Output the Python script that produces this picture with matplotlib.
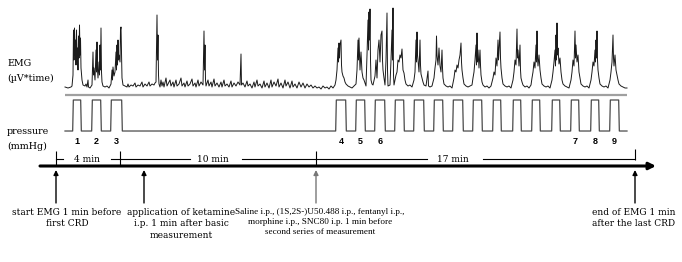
import matplotlib
matplotlib.use("Agg")
import matplotlib.pyplot as plt

# time axis: seconds from the start of EMG recording
emg_t = [27, 36, 45, 48, 51, 52.5, 54, 55.5, 57, 58.5, 60, 61.5, 63, 64.5, 66, 67.5, 69, 70.5, 72, 73.5,
         75, 78, 81, 87, 90, 93, 96, 97.5, 102, 108, 111, 112.5, 114, 117, 120, 121.5, 123, 124.5, 126, 129,
         130.5, 132, 133.5, 135, 136.5, 138, 141, 147, 153, 159, 165, 168, 169.5, 171, 174, 177, 180, 181.5,
         183, 184.5, 186, 187.5, 189, 192, 193.5, 195, 196.5, 198, 201, 207, 213,
         216, 219, 225, 231, 237, 240, 246, 252, 258, 261, 267, 273, 279, 282, 288, 294, 297, 300, 303, 304.5,
         306, 307.5, 309, 312, 315, 318, 321, 324, 330, 333, 336, 342, 345, 351, 354, 360, 363, 369, 375, 378,
         384, 387, 393, 396, 402, 408, 411, 417, 420, 426, 429, 435, 441, 444, 445.5, 447, 448.5, 450, 456,
         459, 465, 468, 474, 477, 483, 489, 495, 498, 504, 507, 513, 519, 525, 528, 534, 540, 546, 552, 555,
         556.5, 561, 567, 573, 576, 582, 588, 594, 597, 603, 606, 612, 618, 624, 627, 633, 639, 645, 648, 654,
         660, 666, 669, 675, 681, 687, 690, 696, 702, 708, 711, 717, 723, 729, 735, 741, 747, 753, 759, 765,
         771, 777, 783, 789, 795, 801, 807, 813, 819, 825, 831, 837,
         840, 843, 846, 847.5, 849, 850.5, 852, 855, 856.5, 858, 861, 864, 867, 870, 876, 882, 888, 894, 900,
         903, 906, 907.5, 909, 910.5, 912, 915, 918, 921, 924, 927, 930, 933, 936, 937.5, 939, 940.5, 942,
         943.5, 945, 948, 951, 957, 960, 963, 966, 969, 972, 975, 978, 979.5, 981, 984, 987, 990, 993, 994.5,
         996, 1002, 1005, 1008, 1009.5, 1011, 1012.5, 1014, 1017, 1020, 1023, 1026, 1029, 1032, 1035, 1038,
         1041, 1044, 1047, 1050, 1056, 1062, 1068, 1074, 1077, 1080, 1081.5, 1083, 1084.5, 1086, 1089, 1092,
         1093.5, 1095, 1098, 1101, 1104, 1110, 1116, 1117.5, 1122, 1128, 1134, 1137, 1140, 1141.5, 1143, 1146,
         1149, 1152, 1155, 1158, 1159.5, 1161, 1164, 1170, 1176, 1182, 1188, 1194, 1197, 1200, 1203, 1206,
         1209, 1212, 1215, 1216.5, 1218, 1221, 1224, 1230, 1236, 1242, 1248, 1251, 1254, 1257, 1260, 1261.5,
         1263, 1264.5, 1266, 1269, 1272, 1273.5, 1275, 1278, 1281, 1287, 1293, 1299, 1305, 1311, 1314, 1317,
         1320, 1323, 1326, 1327.5, 1329, 1332, 1333.5, 1335, 1338, 1341, 1347, 1353, 1359, 1365, 1371, 1374,
         1377, 1380, 1383, 1384.5, 1386, 1389, 1392, 1393.5, 1395, 1398, 1401, 1407, 1413, 1419, 1425, 1428,
         1431, 1434, 1437, 1440, 1441.5, 1443, 1444.5, 1446, 1449, 1452, 1455, 1458, 1464, 1470, 1476, 1482,
         1488, 1491, 1494, 1497, 1498.5, 1500, 1501.5, 1503, 1504.5, 1506, 1509, 1512, 1515, 1518, 1521, 1527,
         1533, 1539, 1545, 1548, 1551, 1554, 1557, 1558.5, 1560, 1563, 1566, 1569, 1572, 1575, 1581, 1587,
         1593, 1599, 1605, 1608, 1611, 1614, 1617, 1618.5, 1620, 1621.5, 1623, 1624.5, 1626, 1629, 1632, 1638,
         1644, 1650, 1656, 1662, 1665, 1668, 1671, 1672.5, 1674, 1677, 1680, 1683, 1686, 1689, 1695, 1701,
         1707, 1713]
emg_v = [0, -1, 0, 1, 12, 57, 27, 59, 32, 47, 22, 57, 25, 39, 17, 51, 29, 62, 32, 49,
         19, 7, 2, 1, 3, 0, 7, 0, -1, 2, 35, 12, 19, 7, 37, 15, 45, 17, 9, 25,
         12, 42, 17, 59, 15, 5, 1, 0, 1, -1, 3, 17, 7, 20, 11, 15, 35, 17,
         42, 22, 47, 27, 32, 25, 57, 60, 32, 9, 2, 1, 0,
         3, 0, 2, 1, 4, 0, 2, 1, 5, 0, 3, 1, 5, 1, 3, 2, 4, 5, 72, 27,
         52, 12, 3, 0, 7, 1, 5, 0, 9, 1, 3, 7, 1, 5, 0, 7, 1, 3, 9, 1,
         4, 0, 6, 1, 3, 8, 1, 4, 0, 7, 1, 5, 2, 56, 17, 42, 7, 1, 7,
         1, 5, 0, 8, 1, 4, 0, 5, 0, 7, 1, 3, 0, 6, 0, 4, 1, 5, 2, 33,
         2, 4, 0, 6, 1, 3, -1, 5, 0, 7, 1, 3, -1, 6, 0, 4, -1, 7, 0, 5,
         1, 8, 0, 4, -1, 7, 1, 5, -1, 6, 0, 3, -1, 5, 0, 4, -1, 3, 0, 2,
         -1, 1, -1, 0, -2, 1, -1, 0, -2, 1, -1, 2,
         7, 17, 39, 25, 44, 29, 42, 47, 22, 15, 11, 9, 5, 3, 1, 0, -1, 1, 3,
         17, 47, 27, 49, 32, 17, 35, 15, 9, 7, 4, 1, 32, 67, 37, 75, 47, 78,
         27, 7, 3, 2, 11, 27, 9, 37, 47, 25, 52, 56, 27, 17, 9, 2, 27, 74, 17,
         1, 2, 27, 57, 27, 79, 12, 2, 7, 12, 15, 27, 25, 32, 29, 38,
         17, 14, 7, 3, 1, 2, 0, 7, 15, 47, 25, 55, 32, 27, 15, 47,
         22, 13, 9, 5, 2, 1, 16, 1, 0, 1, 9, 19, 27, 51, 32, 22,
         39, 21, 15, 37, 19, 9, 3, 1, 0, 1, -1, 9, 17, 15, 22, 19,
         27, 32, 44, 25, 17, 9, 3, 1, 0, 1, 2, 9, 15, 27, 42, 22,
         54, 25, 37, 19, 37, 22, 12, 5, 2, 0, 1, -1, 1, 9, 15, 12,
         29, 21, 47, 27, 37, 55, 29, 19, 9, 3, 1, 0, 1, -1, 7, 15,
         27, 22, 58, 29, 37, 21, 42, 17, 9, 5, 2, 0, 1, -1, 2, 9,
         15, 25, 19, 42, 25, 56, 29, 21, 32, 17, 9, 3, 1, 0, 1, -1,
         7, 15, 25, 37, 21, 52, 27, 64, 32, 39, 23, 29, 15, 7, 3, 1,
         0, -1, 7, 15, 27, 21, 56, 29, 42, 25, 32, 15, 9, 3, 1, 0,
         1, -1, 7, 15, 25, 21, 37, 25, 47, 29, 56, 27, 17, 9, 3, 1,
         0, 1, -1, 7, 15, 25, 52, 29, 21, 32, 17, 12, 7, 3, 1, 0,
         -1, -1]

# colorectal distensions (CRD): onset / offset in seconds
crd_on = [51, 108, 165, 840, 900, 957, 1017, 1074, 1134, 1191, 1251, 1311, 1371, 1428, 1488, 1545, 1605, 1662]
crd_off = [75, 135, 198, 870, 927, 987, 1044, 1104, 1161, 1221, 1278, 1335, 1395, 1452, 1512, 1569, 1629, 1689]
crd_labels = {0: "1", 1: "2", 2: "3", 3: "4", 4: "5", 5: "6", 15: "7", 16: "8", 17: "9"}
crd_pressure = 80  # mmHg
rec_start, rec_end = 27, 1713

# timeline
tick_t = [0, 192, 780, 1737]
seg_t = [(0, 21), (165, 402), (558, 1113), (1281, 1737)]
seg_labels = ["4 min", "10 min", "17 min"]
seg_label_t = [93, 470, 1190]
event_t = [0, 264, 780, 1737]
event_text_t = [33, 375, 792, 1734]
event_texts = [
    "start EMG 1 min before\nfirst CRD",
    "application of ketamine\ni.p. 1 min after basic\nmeasurement",
    "Saline i.p., (1S,2S-)U50.488 i.p., fentanyl i.p.,\nmorphine i.p., SNC80 i.p. 1 min before\nsecond series of measurement",
    "end of EMG 1 min\nafter the last CRD",
]
event_colors = ["black", "black", "#777777", "black"]
event_fonts = ["DejaVu Serif", "DejaVu Serif", "Liberation Serif", "DejaVu Serif"]
event_sizes = [6.5, 6.5, 6.6, 6.5]

W, H = 682, 262
XLIM = (-168, 1878)
serif = "DejaVu Serif"


def band(top, bottom):
    return [0, 1 - bottom / H, 1, (bottom - top) / H]


fig = plt.figure(figsize=(W / 100, H / 100), dpi=100)

ax_emg = fig.add_axes(band(0, 95))
ax_emg.plot(emg_t, emg_v, color="#1a1a1a", lw=0.7)
ax_emg.set_xlim(*XLIM)
ax_emg.set_ylim(-8, 87)
ax_emg.axis("off")

# pressure trace as square pulses
p_t, p_v = [rec_start], [0]
for on, off in zip(crd_on, crd_off):
    p_t += [on - 1, on + 1, off - 1, off + 1]
    p_v += [0, crd_pressure, crd_pressure, 0]
p_t.append(rec_end)
p_v.append(0)

ax_p = fig.add_axes(band(95, 140))
ax_p.plot(p_t, p_v, color="#4a4a4a", lw=0.9)
ax_p.set_xlim(*XLIM)
ax_p.set_ylim(-23.2, 92.9)
ax_p.axis("off")

ax = fig.add_axes([0, 0, 1, 1])
ax.set_xlim(*XLIM)
ax.set_ylim(H, 0)
ax.axis("off")

ax.hlines(95, rec_start, rec_end, color="#a0a0a0", lw=1.6)

for i, lab in crd_labels.items():
    ax.text((crd_on[i] + crd_off[i]) / 2, 142, lab, ha="center", va="center",
            fontsize=6.5, fontweight="bold", family="Liberation Sans")

x_left = 7 * (XLIM[1] - XLIM[0]) / W + XLIM[0]
for y, lab in [(63, "EMG"), (78, "(µV*time)"), (131, "pressure"), (146, "(mmHg)")]:
    ax.text(x_left, y, lab, fontsize=6.8, family=serif, va="center")

# thin interval line with labels
for a, b in seg_t:
    ax.plot([a, b], [159, 159], color="black", lw=0.8)
for t, lab in zip(seg_label_t, seg_labels):
    ax.text(t, 159, lab, ha="center", va="center", fontsize=6.5, family=serif)
ax.vlines(tick_t[:3], 151, 166, color="black", lw=0.8)
ax.vlines(tick_t[3], 149, 160, color="black", lw=0.8)

# main time axis
ax.annotate("", xy=(1800, 166), xytext=(-48, 166),
            arrowprops=dict(arrowstyle="-|>", color="black", lw=2.2, mutation_scale=10,
                            shrinkA=0, shrinkB=0))

for t, tt, txt, c, fam, fs in zip(event_t, event_text_t, event_texts, event_colors,
                                  event_fonts, event_sizes):
    ax.annotate("", xy=(t, 170), xytext=(t, 203),
                arrowprops=dict(arrowstyle="-|>", color=c, lw=1.0, mutation_scale=7,
                                shrinkA=0, shrinkB=0))
    ax.text(tt, 208, txt, ha="center", va="top", fontsize=fs, family=fam,
            linespacing=1.35)

fig.savefig("out.png", dpi=100)
